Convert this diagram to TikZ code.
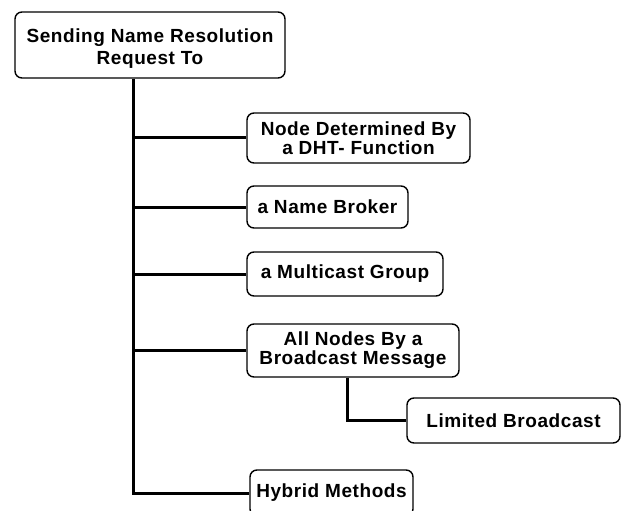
\documentclass[tikz,border=0pt]{standalone}
\usepackage{fontspec}
\newfontfamily\boxfont{Liberation Sans}[LetterSpace=3]
\usetikzlibrary{positioning, calc}

\begin{document}
\begin{tikzpicture}[
  x=1pt, y=-1pt,
  block/.style={
    rectangle, draw, rounded corners=7pt, line width=1.4pt,
    inner sep=0pt, align=center,
    font=\boxfont\bfseries\fontsize{19}{19}\selectfont
  },
  link/.style={line width=3pt},
]
\useasboundingbox (0,0) rectangle (630,511);
\clip (0,0) rectangle (630,511);

% ---- Root ----
\node[block, minimum width=270pt, minimum height=66pt,
  font=\boxfont\bfseries\fontsize{19}{22}\selectfont] (root) at (150,45)
  {\rule{0pt}{21pt}Sending Name Resolution\\Request To};

% ---- Options (right column) ----
\node[block, minimum width=223pt, minimum height=50pt] (dht) at (358.5,138)
  {Node Determined By\\a DHT- Function};
\node[block, minimum width=161pt, minimum height=42pt] (broker) at (327.5,207)
  {a Name Broker};
\node[block, minimum width=196pt, minimum height=44pt] (mcast) at (345,274)
  {a Multicast Group};
\node[block, minimum width=212pt, minimum height=53pt] (bcast) at (353,350.5)
  {All Nodes By a\\Broadcast Message};
\node[block, minimum width=213pt, minimum height=45pt] (limited) at (513.5,420.5)
  {Limited Broadcast};
\node[block, minimum width=163pt, minimum height=46pt] (hybrid) at (331.5,493)
  {Hybrid Methods};

% Trunk positions
\coordinate (trunk) at (133,78);
\coordinate (sub) at (347,377);

% Connectors
\draw[link] (root.south -| trunk) |- (hybrid.west);
\draw[link] (trunk |- dht.west) -- (dht.west);
\draw[link] (trunk |- broker.west) -- (broker.west);
\draw[link] (trunk |- mcast.west) -- (mcast.west);
\draw[link] (trunk |- bcast.west) -- (bcast.west);
\draw[link] (bcast.south -| sub) |- (limited.west);

\end{tikzpicture}
\end{document}
